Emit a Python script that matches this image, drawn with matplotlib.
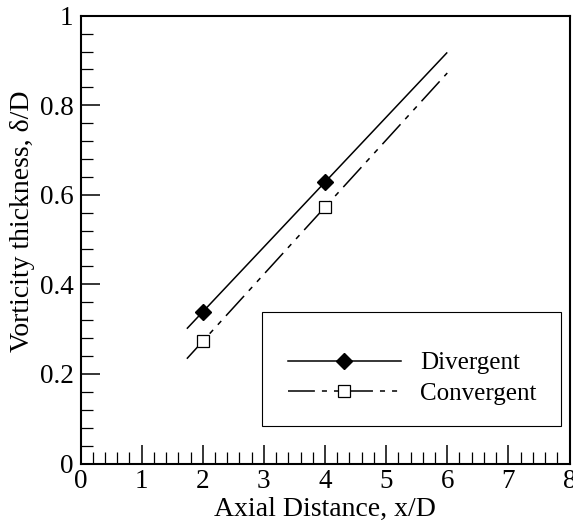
import matplotlib
matplotlib.use("Agg")
import matplotlib.pyplot as plt
from matplotlib.ticker import MultipleLocator
from matplotlib.patches import Rectangle

# Data
x_points = [2, 4]
div_points = [0.339, 0.628]
conv_points = [0.274, 0.573]
fit_x = [1.74, 6.0]
div_fit = [0.301, 0.918]
conv_fit = [0.234, 0.872]

plt.rcParams['font.family'] = ['Liberation Serif', 'DejaVu Serif']

fig = plt.figure(figsize=(5.73, 5.24), dpi=100)
ax = fig.add_axes([80.5/573, 1 - 463.5/524, 489/573, 447.8/524])

lw = 1.1
ax.plot(fit_x, div_fit, color='black', lw=lw, solid_capstyle='butt')
ax.plot(x_points, div_points, linestyle='none', marker='D', ms=8,
        mfc='black', mec='black')
dash = (17.6, 4.6, 3.3, 4.6, 3.3, 4.6)
ax.plot(fit_x, conv_fit, color='black', lw=lw, dashes=dash)
ax.plot(x_points, conv_points, linestyle='none', marker='s', ms=8.5,
        mfc='white', mec='black', mew=0.9)

# legend handles
h1, = ax.plot([], [], color='black', lw=lw, marker='D', ms=8, mfc='black')
h2, = ax.plot([], [], color='black', lw=lw, dashes=dash, marker='s', ms=8.5,
              mfc='white', mec='black', mew=0.9)
leg = ax.legend([h1, h2], ['Divergent', 'Convergent'], loc='center left',
                bbox_to_anchor=(0.4235, 0.190), frameon=False, fontsize=18,
                handlelength=113/25, handletextpad=0.77, numpoints=1,
                borderpad=0, borderaxespad=0, labelspacing=0.32)
ax.add_patch(Rectangle((0.372, 0.0844), 0.9826 - 0.372, 0.3377 - 0.0844,
                       transform=ax.transAxes, fill=False, edgecolor='black',
                       lw=0.8, zorder=1))

ax.set_xlim(0, 8)
ax.set_ylim(0, 1)
ax.xaxis.set_major_locator(MultipleLocator(1))
ax.xaxis.set_minor_locator(MultipleLocator(0.2))
ax.yaxis.set_major_locator(MultipleLocator(0.2))
ax.yaxis.set_minor_locator(MultipleLocator(0.04))
ax.xaxis.set_major_formatter(plt.FuncFormatter(lambda v, p: f"{v:g}"))
ax.yaxis.set_major_formatter(plt.FuncFormatter(lambda v, p: f"{v:g}"))

ax.tick_params(which='both', direction='in', top=False, right=False,
               labelsize=19.5)
ax.tick_params(which='major', length=13.5, width=1.1)
ax.tick_params(which='minor', length=8.5, width=0.9)
ax.tick_params(axis='y', which='major', pad=5)
ax.tick_params(axis='x', which='major', pad=4)
for s in ax.spines.values():
    s.set_linewidth(1.5)

ax.set_xlabel('Axial Distance, x/D', fontsize=20, labelpad=2)
ax.set_ylabel('Vorticity thickness, δ/D', fontsize=20)
ax.yaxis.set_label_coords(-0.093, 0.5415)

fig.savefig('out.png', dpi=100)
